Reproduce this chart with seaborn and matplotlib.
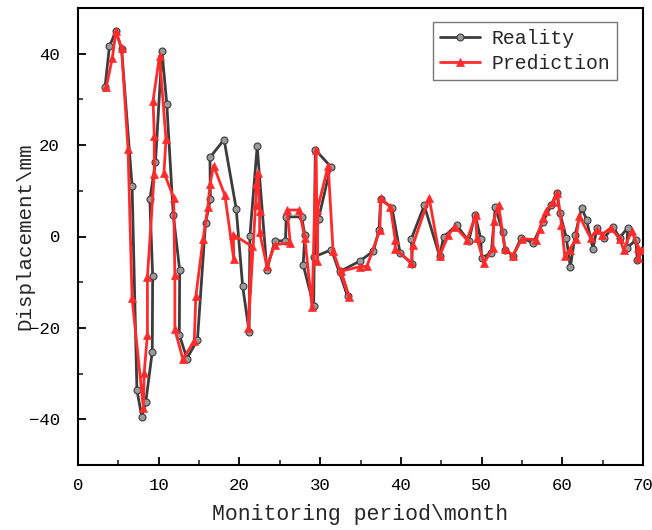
import matplotlib
matplotlib.use("Agg")
import matplotlib.pyplot as plt
from matplotlib.ticker import MultipleLocator
import seaborn as sns
import pandas as pd

# ---- data ----
reality_x = [3.35, 3.9, 4.7, 5.4, 6.7, 7.3, 7.9, 8.4, 9.2, 9.25, 8.9, 9.6, 10.4, 11.0, 11.8,
             12.6, 12.55, 13.5, 14.8, 15.8, 16.4, 16.35, 18.1, 19.6, 20.4, 21.2, 21.3, 22.2,
             23.4, 24.4, 25.7, 25.8, 27.7, 28.1, 27.9, 29.2, 29.4, 31.3, 29.8, 29.2, 31.4,
             33.4, 32.5, 34.9, 36.6, 37.3, 37.5, 38.9, 39.9, 41.4, 41.3, 42.9, 44.8, 45.3,
             46.9, 48.4, 49.2, 49.9, 50.0, 51.2, 51.7, 52.6, 52.9, 53.9, 54.9, 56.4, 57.6,
             58.6, 59.3, 59.7, 60.5, 61.0, 61.6, 62.4, 63.0, 63.8, 64.3, 65.2, 66.3, 67.1,
             68.1, 68.0, 69.1, 69.3, 70.0]
reality_y = [32.7, 41.7, 44.9, 41.0, 11.1, -33.6, -39.4, -36.2, -25.2, -8.6, 8.1, 16.3, 40.6,
             29.0, 4.8, -7.4, -21.5, -26.7, -22.6, 3.0, 8.1, 17.3, 21.2, 6.1, -10.9, -20.8,
             0.2, 19.7, -7.3, -0.9, -1.0, 4.3, 4.3, 0.4, -6.2, -15.2, 19.0, 15.3, 3.9, -4.5,
             -2.9, -13.0, -7.6, -5.4, -3.2, 1.5, 8.1, 6.3, -3.6, -6.0, -0.5, 6.8, -4.3, -0.1,
             2.5, -1.0, 4.8, -0.5, -4.7, -3.6, 6.5, 1.0, -2.9, -4.2, -0.3, -1.4, 3.1, 6.8,
             9.5, 5.2, -0.3, -6.7, 0.4, 6.3, 3.7, -2.7, 1.9, -0.3, 2.1, -0.3, 1.9, -2.5,
             -0.8, -5.2, -2.9]

pred_x = [3.5, 4.25, 4.7, 5.4, 6.2, 6.7, 8.1, 8.2, 8.6, 8.6, 9.45, 9.45, 9.3, 10.1, 10.9,
          10.65, 11.85, 12.0, 12.0, 13.0, 14.4, 14.6, 15.5, 16.1, 16.35, 16.8, 18.2, 19.3,
          19.25, 21.5, 21.1, 22.0, 22.1, 22.3, 22.5, 22.5, 23.4, 24.4, 26.3, 25.9, 27.4,
          28.1, 29.0, 29.5, 29.65, 29.65, 31.0, 31.6, 33.6, 32.6, 34.9, 35.8, 37.4, 37.5,
          38.7, 39.3, 39.3, 41.3, 41.5, 43.5, 44.8, 45.9, 46.7, 48.2, 49.3, 49.4, 50.3,
          51.4, 51.5, 52.1, 52.9, 53.9, 55.0, 56.8, 57.2, 57.6, 58.0, 58.9, 59.4, 59.9,
          60.3, 60.9, 61.7, 62.1, 63.5, 64.3, 64.9, 66.0, 67.1, 67.6, 68.6, 69.4, 69.4, 70.0]
pred_y = [32.7, 39.0, 44.9, 41.2, 19.1, -13.5, -37.5, -29.8, -21.5, -8.8, 13.6, 22.0, 29.7,
          39.5, 21.3, 14.0, 8.5, -8.5, -20.3, -26.9, -22.8, -13.1, -0.5, 6.5, 11.4, 15.5,
          9.0, -5.0, 0.4, -2.1, -20.1, 6.9, 11.4, 14.0, 5.6, 0.9, -6.5, -1.8, -1.4, 5.8,
          5.8, -0.3, -15.5, 19.0, -5.4, 5.9, 15.5, -3.2, -13.3, -7.6, -6.6, -6.5, 1.4, 8.4,
          6.5, -0.7, -2.7, -5.8, -1.8, 8.5, -4.3, 0.4, 2.1, -0.7, 4.8, -0.3, -5.8, -2.6,
          3.4, 7.0, -2.7, -4.2, -0.5, -0.7, 1.7, 4.1, 5.6, 7.6, 9.6, 2.6, -4.2, -2.9, -0.5,
          4.5, -0.3, 1.5, 0.4, 1.9, -0.5, -2.9, 1.2, -2.5, -4.7, -2.9]

x_ticks = [0, 10, 20, 30, 40, 50, 60, 70]
y_ticks = [-40, -20, 0, 20, 40]
series_names = ["Reality", "Prediction"]
x_label = "Monitoring period\\month"
y_label = "Displacement\\mm"

# ---- plot ----
sns.set_style("white")
FONT = ["Liberation Mono", "DejaVu Sans Mono"]
plt.rcParams["font.family"] = FONT
plt.rcParams["axes.unicode_minus"] = True

fig = plt.figure(figsize=(6.52, 5.30), dpi=100)
ax = fig.add_axes([78 / 652, 1 - 465 / 530, 565 / 652, 457 / 530])

df_r = pd.DataFrame({"x": reality_x, "y": reality_y})
df_p = pd.DataFrame({"x": pred_x, "y": pred_y})

sns.lineplot(data=df_r, x="x", y="y", sort=False, estimator=None, ax=ax,
             color="#3c3c3c", linewidth=2.0, marker="o", markersize=5,
             markerfacecolor="#9a9a9a", markeredgecolor="#3c3c3c", markeredgewidth=0.8,
             label=series_names[0], zorder=2)
sns.lineplot(data=df_p, x="x", y="y", sort=False, estimator=None, ax=ax,
             color="#ff2b2b", linewidth=2.0, marker="^", markersize=6,
             markerfacecolor="#ff2b2b", markeredgecolor="#ff2b2b", markeredgewidth=0.5,
             label=series_names[1], zorder=3)

ax.set_xlim(0, 70)
ax.set_ylim(-50, 50)
ax.set_xticks(x_ticks)
ax.set_yticks(y_ticks)
ax.xaxis.set_minor_locator(MultipleLocator(5))
ax.yaxis.set_minor_locator(MultipleLocator(10))
ax.tick_params(axis="both", which="major", direction="in", length=6, width=1.3,
               labelsize=12.5, colors="black", bottom=True, left=True,
               top=False, right=False)
ax.tick_params(axis="x", which="major", pad=9)
ax.tick_params(axis="y", which="major", pad=13)
ax.tick_params(axis="both", which="minor", direction="in", length=3.5, width=1.2,
               bottom=True, left=True, top=False, right=False)
for s in ax.spines.values():
    s.set_color("black")
    s.set_linewidth(1.5)

ax.set_xlabel(x_label, fontsize=15.5)
ax.set_ylabel(y_label, fontsize=15)
ax.xaxis.set_label_coords(0.5, -0.085)
ax.yaxis.set_label_coords(-0.078, 0.5)
ax.grid(False)

leg = ax.legend(loc="upper right", bbox_to_anchor=(0.954, 0.969), fontsize=14.2,
                frameon=True, fancybox=False, edgecolor="#777777", framealpha=1,
                handlelength=2.0, handletextpad=0.6, borderpad=0.35, labelspacing=0.3,
                borderaxespad=0)
leg.get_frame().set_linewidth(1.0)

fig.savefig("out.png", dpi=100)
